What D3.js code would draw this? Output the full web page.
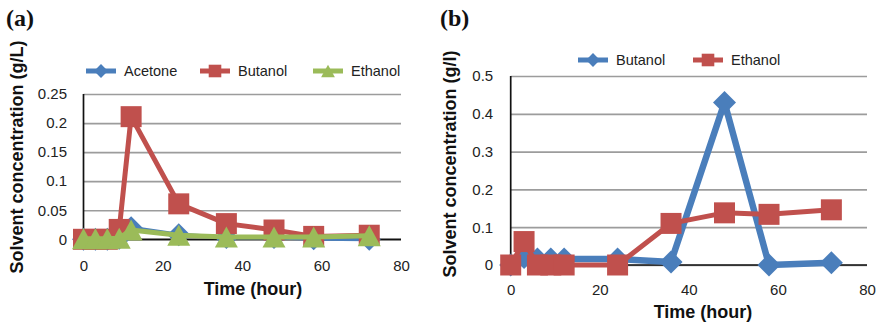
<!DOCTYPE html>
<html>
<head>
<meta charset="utf-8">
<script src="https://cdnjs.cloudflare.com/ajax/libs/d3/7.8.5/d3.min.js"></script>
<style>
  body { margin: 0; background: #fff; }
  svg { display: block; font-family: "Liberation Sans", Arial, sans-serif; }
</style>
</head>
<body>
<div id="chart"></div>
<script>
// Sampling times (hour), same for both panels
var timesA = [0, 3, 6, 9, 12, 24, 36, 48, 58, 72];
var timesB = [0, 3, 6, 9, 12, 24, 36, 48, 58, 72];

// Panel (a) series, g/L
var acetoneA = [0, 0, 0, 0.002, 0.02, 0.008, 0.003, 0.003, 0.001, 0];
var butanolA = [0, 0, 0, 0.017, 0.211, 0.061, 0.027, 0.016, 0.005, 0.007];
var ethanolA = [0.001, 0.001, 0.001, 0.002, 0.016, 0.007, 0.004, 0.004, 0.004, 0.006];

// Panel (b) series, g/l
var butanolB = [0, 0.02, 0.016, 0.016, 0.016, 0.016, 0.008, 0.43, 0, 0.006];
var ethanolB = [0, 0.062, 0, 0, 0, 0, 0.11, 0.138, 0.134, 0.146];

// Tick labels
var xTicks = [0, 20, 40, 60, 80];
var yTicksA = [0, 0.05, 0.1, 0.15, 0.2, 0.25];
var yTicksB = [0, 0.1, 0.2, 0.3, 0.4, 0.5];

var blue = "#4a7ebb", red = "#c0504d", green = "#9bbb59";

var svg = d3.select("#chart").append("svg")
    .attr("width", 880)
    .attr("height", 327);

// builds one panel
function panel(p) {
  var g = svg.append("g");

  var x = d3.scaleLinear().domain([0, 80]).range([p.x0, p.x1]);
  var y = d3.scaleLinear().domain([0, p.yMax]).range([p.y0, p.y1]);

  // horizontal gridlines
  g.append("g")
      .attr("transform", "translate(" + p.x0 + ",0)")
      .call(d3.axisLeft(y).tickValues(p.yTicks).tickSize(-(p.x1 - p.x0)).tickFormat(""))
      .call(function (s) {
        s.select(".domain").remove();
        s.selectAll("line").attr("stroke", "#9c9c9c").attr("stroke-width", 1.7);
      });

  // zero line and y axis line
  g.append("line")
      .attr("x1", p.x0).attr("x2", p.x1)
      .attr("y1", y(0)).attr("y2", y(0))
      .attr("stroke", "#111").attr("stroke-width", 1.7);
  g.append("line")
      .attr("x1", p.x0).attr("x2", p.x0)
      .attr("y1", y(p.yMax)).attr("y2", y(0))
      .attr("stroke", "#111").attr("stroke-width", 1.7);

  // y tick labels
  g.append("g")
      .attr("transform", "translate(" + p.x0 + ",0)")
      .call(d3.axisLeft(y).tickValues(p.yTicks).tickSize(0).tickPadding(p.yPad)
        .tickFormat(function (d) { return String(+d.toFixed(2)); }))
      .call(function (s) {
        s.select(".domain").remove();
        s.selectAll("text").attr("font-size", 15).attr("fill", "#222")
          .attr("font-family", "Liberation Sans, Arial, sans-serif");
      });

  // x tick labels
  g.append("g")
      .attr("transform", "translate(0," + y(0) + ")")
      .call(d3.axisBottom(x).tickValues(xTicks).tickSize(0).tickPadding(p.xPad))
      .call(function (s) {
        s.select(".domain").remove();
        s.selectAll("text").attr("font-size", 15).attr("fill", "#222")
          .attr("font-family", "Liberation Sans, Arial, sans-serif");
      });

  // series (later series on top)
  p.series.forEach(function (ser) {
    var pts = p.times.map(function (t, i) { return [t, ser.values[i]]; });
    g.append("path")
        .datum(pts)
        .attr("fill", "none")
        .attr("stroke", ser.color)
        .attr("stroke-width", ser.lw)
        .attr("stroke-linejoin", "round")
        .attr("d", d3.line().x(function (d) { return x(d[0]); }).y(function (d) { return y(d[1]); }));
    g.selectAll(null)
        .data(pts)
        .enter().append("path")
        .attr("transform", function (d) { return "translate(" + x(d[0]) + "," + y(d[1]) + ")"; })
        .attr("d", markerPath(ser.shape, 1))
        .attr("fill", ser.color);
  });

  // legend
  var lg = g.append("g");
  p.series.forEach(function (ser, i) {
    var lx = p.legendX[i];
    lg.append("line")
        .attr("x1", lx).attr("x2", lx + 30)
        .attr("y1", p.legendY).attr("y2", p.legendY)
        .attr("stroke", ser.color).attr("stroke-width", 5);
    lg.append("path")
        .attr("transform", "translate(" + (lx + 15) + "," + p.legendY + ")")
        .attr("d", markerPath(ser.shape, 0.6))
        .attr("fill", ser.color);
    lg.append("text")
        .attr("x", lx + 38)
        .attr("y", p.legendY)
        .attr("dy", "0.35em")
        .attr("font-size", 14.5)
        .attr("fill", "#222")
        .text(ser.name);
  });

  // axis titles
  g.append("text")
      .attr("x", p.xTitle[0]).attr("y", p.xTitle[1])
      .attr("dy", "0.35em")
      .attr("text-anchor", "middle")
      .attr("font-size", 18)
      .attr("font-weight", "bold")
      .attr("fill", "#111")
      .text("Time (hour)");
  g.append("text")
      .attr("transform", "translate(" + p.yTitle[0] + "," + p.yTitle[1] + ") rotate(-90)")
      .attr("dy", "0.35em")
      .attr("text-anchor", "middle")
      .attr("font-size", 18)
      .attr("font-weight", "bold")
      .attr("fill", "#111")
      .text(p.yLabel);

  // panel letter
  g.append("text")
      .attr("x", p.letter[0]).attr("y", p.letter[1])
      .attr("dy", "0.35em")
      .attr("font-family", "Liberation Serif, Times New Roman, serif")
      .attr("font-size", 24)
      .attr("font-weight", "bold")
      .attr("fill", "#111")
      .text(p.letterText);
}

function markerPath(shape, k) {
  if (shape === "square") {
    var s = 10.5 * k;
    return "M" + (-s) + "," + (-s) + "H" + s + "V" + s + "H" + (-s) + "Z";
  }
  if (shape === "diamond") {
    var r = 11.5 * k;
    return "M0," + (-r) + "L" + r + ",0L0," + r + "L" + (-r) + ",0Z";
  }
  // triangle
  var w = 11.5 * k, h = 10.5 * k;
  return "M0," + (-h) + "L" + w + "," + h + "L" + (-w) + "," + h + "Z";
}

panel({
  x0: 83.5, x1: 401, y0: 239.3, y1: 94, yMax: 0.25,
  yTicks: yTicksA, yPad: 16.5, xPad: 21.5,
  times: timesA,
  series: [
    { name: "Acetone", values: acetoneA, color: blue, shape: "diamond", lw: 4 },
    { name: "Butanol", values: butanolA, color: red, shape: "square", lw: 5 },
    { name: "Ethanol", values: ethanolA, color: green, shape: "triangle", lw: 5 }
  ],
  legendX: [86, 200, 313], legendY: 71,
  xTitle: [253, 289], yTitle: [17, 157], yLabel: "Solvent concentration (g/L)",
  letter: [6, 18], letterText: "(a)"
});

panel({
  x0: 510.7, x1: 867, y0: 265, y1: 76, yMax: 0.5,
  yTicks: yTicksB, yPad: 17.5, xPad: 19.8,
  times: timesB,
  series: [
    { name: "Butanol", values: butanolB, color: blue, shape: "diamond", lw: 6.5 },
    { name: "Ethanol", values: ethanolB, color: red, shape: "square", lw: 5 }
  ],
  legendX: [578, 693], legendY: 60,
  xTitle: [703, 312], yTitle: [450, 164], yLabel: "Solvent concentration (g/l)",
  letter: [440, 18], letterText: "(b)"
});
</script>
</body>
</html>
